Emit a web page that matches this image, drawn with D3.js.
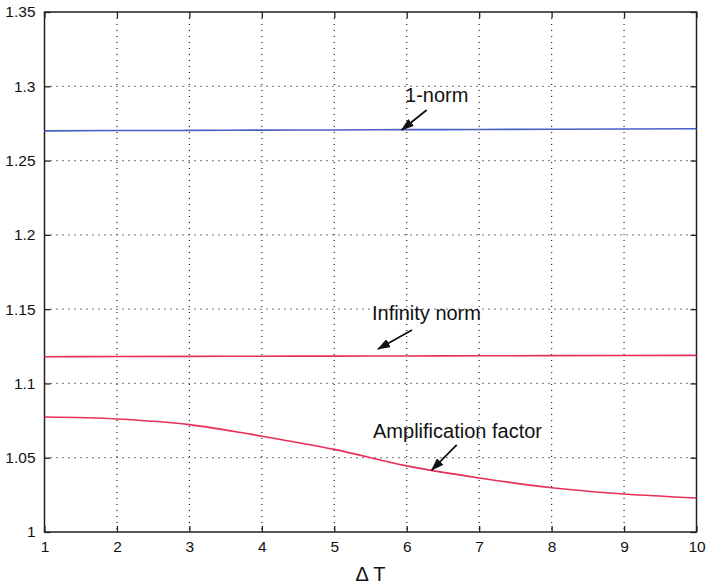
<!DOCTYPE html>
<html>
<head>
<meta charset="utf-8">
<script src="https://cdn.jsdelivr.net/npm/d3@7"></script>
<style>
  body { margin: 0; background: #fff; }
  text { font-family: "Liberation Sans", Arial, sans-serif; }
</style>
</head>
<body>
<div id="chart"></div>
<script>
// data
var deltaT = [1, 2, 3, 4, 5, 6, 7, 8, 9, 10];
var oneNorm = [1.2700, 1.2702, 1.2703, 1.2705, 1.2706, 1.2708, 1.2709, 1.2711, 1.2712, 1.2714];
var infNorm = [1.1180, 1.1181, 1.1182, 1.1183, 1.1184, 1.1185, 1.1186, 1.1187, 1.1188, 1.1189];
var ampFactor = [1.0774, 1.0761, 1.0723, 1.0645, 1.0556, 1.0445, 1.0364, 1.0298, 1.0256, 1.0229];
var xTicks = [1, 2, 3, 4, 5, 6, 7, 8, 9, 10];
var yTicks = [1, 1.05, 1.1, 1.15, 1.2, 1.25, 1.3, 1.35];
var yTickLabels = ["1", "1.05", "1.1", "1.15", "1.2", "1.25", "1.3", "1.35"];

// annotations: text position and arrow (from -> tip), in data units
var notes = [
  {label: "1-norm", tx: 5.977, ty: 1.2894, x1: 6.276, y1: 1.2840, x2: 5.931, y2: 1.2706},
  {label: "Infinity norm", tx: 5.521, ty: 1.1427, x1: 6.073, y1: 1.1360, x2: 5.604, y2: 1.1232},
  {label: "Amplification factor", tx: 5.535, ty: 1.0636, x1: 6.690, y1: 1.0586, x2: 6.345, y2: 1.0417}
];

var margin = {top: 12, right: 10.5, bottom: 52, left: 44.5},
    width = 707 - margin.left - margin.right,
    height = 584 - margin.top - margin.bottom;

var svg = d3.select("#chart")
  .append("svg")
    .attr("width", 707)
    .attr("height", 584)
  .append("g")
    .attr("transform", "translate(" + margin.left + "," + margin.top + ")");

var x = d3.scaleLinear().domain([1, 10]).range([0, width]);
var y = d3.scaleLinear().domain([1, 1.35]).range([height, 0]);

// dotted grid
svg.append("g")
  .selectAll("line.vg")
  .data(xTicks.slice(1, -1))
  .enter().append("line")
    .attr("x1", function(d) { return x(d); })
    .attr("x2", function(d) { return x(d); })
    .attr("y1", 0).attr("y2", height)
    .attr("stroke", "#222").attr("stroke-width", 1.2)
    .attr("stroke-dasharray", "1,5");
svg.append("g")
  .selectAll("line.hg")
  .data(yTicks.slice(1, -1))
  .enter().append("line")
    .attr("y1", function(d) { return y(d); })
    .attr("y2", function(d) { return y(d); })
    .attr("x1", 0).attr("x2", width)
    .attr("stroke", "#222").attr("stroke-width", 1.2)
    .attr("stroke-dasharray", "1,5");

// axes with inward ticks on all four sides
var axisStyle = function(g) {
  g.attr("font-size", null).attr("font-family", null);
  g.select(".domain").remove();
  g.selectAll(".tick line").attr("stroke", "#222").attr("stroke-width", 1.3);
  g.selectAll(".tick text").style("font-size", "15.5px").attr("fill", "#111");
};
svg.append("g")
    .attr("transform", "translate(0," + height + ")")
    .call(d3.axisBottom(x).tickValues(xTicks).tickFormat(d3.format("d")).tickSizeInner(-6).tickPadding(9))
    .call(axisStyle);
svg.append("g")
    .call(d3.axisTop(x).tickValues(xTicks).tickFormat("").tickSizeInner(-6))
    .call(axisStyle);
svg.append("g")
    .call(d3.axisLeft(y).tickValues(yTicks).tickFormat(function(d, i) { return yTickLabels[i]; }).tickSizeInner(-6).tickPadding(9))
    .call(axisStyle);
svg.append("g")
    .attr("transform", "translate(" + width + ",0)")
    .call(d3.axisRight(y).tickValues(yTicks).tickFormat("").tickSizeInner(-6))
    .call(axisStyle);

// box
svg.append("rect")
    .attr("width", width).attr("height", height)
    .attr("fill", "none").attr("stroke", "#222").attr("stroke-width", 1.5);

// series
var line = d3.line()
    .x(function(d, i) { return x(deltaT[i]); })
    .y(function(d) { return y(d); })
    .curve(d3.curveMonotoneX);

svg.append("path").datum(oneNorm)
    .attr("fill", "none").attr("stroke", "#4a5fc4").attr("stroke-width", 1.6).attr("d", line);
svg.append("path").datum(infNorm)
    .attr("fill", "none").attr("stroke", "#e62e58").attr("stroke-width", 1.6).attr("d", line);
svg.append("path").datum(ampFactor)
    .attr("fill", "none").attr("stroke", "#e62e58").attr("stroke-width", 1.6).attr("d", line);

// arrowheads
svg.append("defs").append("marker")
    .attr("id", "arrow")
    .attr("viewBox", "0 0 13 9")
    .attr("refX", 12).attr("refY", 4.5)
    .attr("markerWidth", 13).attr("markerHeight", 9)
    .attr("markerUnits", "userSpaceOnUse")
    .attr("orient", "auto")
  .append("path")
    .attr("d", "M0,0 L13,4.5 L0,9 z")
    .attr("fill", "#111");

var ann = svg.append("g")
  .selectAll("g")
  .data(notes)
  .enter().append("g");
ann.append("text")
    .attr("x", function(d) { return x(d.tx); })
    .attr("y", function(d) { return y(d.ty); })
    .style("font-size", "20px")
    .attr("fill", "#111")
    .text(function(d) { return d.label; });
ann.append("line")
    .attr("x1", function(d) { return x(d.x1); })
    .attr("y1", function(d) { return y(d.y1); })
    .attr("x2", function(d) { return x(d.x2); })
    .attr("y2", function(d) { return y(d.y2); })
    .attr("stroke", "#111").attr("stroke-width", 1.8)
    .attr("marker-end", "url(#arrow)");

// x label
svg.append("text")
    .attr("x", width / 2)
    .attr("y", height + 49)
    .attr("text-anchor", "middle")
    .style("font-size", "20px")
    .attr("fill", "#111")
    .text("\u0394 T");
</script>
</body>
</html>
